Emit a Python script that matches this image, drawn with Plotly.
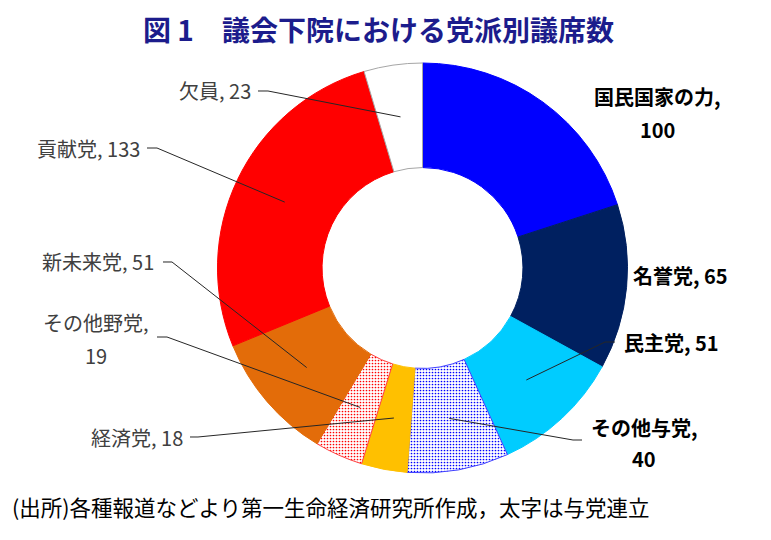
import math
import plotly.graph_objects as go

# 議会下院の党派別議席数（時計回り、12時の位置から）
parties = ["国民国家の力", "名誉党", "民主党", "その他与党", "経済党",
           "その他野党", "新未来党", "貢献党", "欠員"]
seats = [100, 65, 51, 40, 18, 19, 51, 133, 23]
ruling = [True, True, True, True, False, False, False, False, False]

fill_colors = ["#0000FF", "#002060", "#00CCFF", "#FFFFFF", "#FFC000",
               "#FFFFFF", "#E36C09", "#FF0000", "#FFFFFF"]
edge_colors = ["#0000FF", "#002060", "#00CCFF", "#4040FF", "#FFC000",
               "#FF4040", "#E36C09", "#FF0000", "#A6A6A6"]
pattern_shape = ["", "", "", ".", "", ".", "", "", ""]
pattern_fg = ["#0000FF", "#0000FF", "#0000FF", "#0000FF", "#0000FF",
              "#FF0000", "#FF0000", "#FF0000", "#FF0000"]

W, H = 771, 540
OFF = 8                        # ページ余白のずれ(px)
CX, CY, R = 422.5, 268, 205    # 円の中心と半径(px, 画面座標)
HOLE = 0.49
FONT = "Noto Sans CJK JP"

# ラベル配置 (px): 各行の文字列, x, y, xanchor
label_pos = {
    "国民国家の力": [("{n},", 657, 97, "center"), ("{v}", 657, 130, "center")],
    "名誉党": [("{n}, {v}", 631, 275, "left")],
    "民主党": [("{n}, {v}", 622, 342, "left")],
    "その他与党": [("{n},", 644, 427, "center"), ("{v}", 644, 458, "center")],
    "経済党": [("{n}, {v}", 185, 437, "right")],
    "その他野党": [("{n},", 96, 322, "center"), ("{v}", 96, 355, "center")],
    "新未来党": [("{n}, {v}", 156, 262, "right")],
    "貢献党": [("{n}, {v}", 142, 148, "right")],
    "欠員": [("{n}, {v}", 253, 91, "right")],
}
# 引き出し線の始点 (px)
leader_start = {
    "民主党": [(615, 342), (605, 342)],
    "その他与党": [(582, 440), (573, 440)],
    "経済党": [(190, 437), (198, 437)],
    "その他野党": [(157, 337), (167, 337)],
    "新未来党": [(163, 262), (172, 262)],
    "貢献党": [(147, 148), (157, 148)],
    "欠員": [(258, 91), (268, 91)],
}


def px(x):
    return (x - OFF) / W


def py(y):
    return 1 - (y - OFF) / H


fig = go.Figure(go.Pie(
    labels=parties,
    values=seats,
    sort=False,
    direction="clockwise",
    rotation=0,
    hole=HOLE,
    textinfo="none",
    hoverinfo="label+value",
    marker=dict(
        colors=fill_colors,
        line=dict(color=edge_colors, width=1),
        pattern=dict(shape=pattern_shape, fgcolor=pattern_fg,
                     bgcolor="#FFFFFF", size=3, solidity=0.25),
    ),
    domain=dict(x=[px(CX - R), px(CX + R)], y=[py(CY + R), py(CY - R)]),
    showlegend=False,
))

# スライス中央の位置（データから算出）
total = sum(seats)
cum = 0
annotations = []
shapes = []
for name, v, bold in zip(parties, seats, ruling):
    mid = (cum + v / 2) / total * 2 * math.pi
    cum += v
    r = R * (1 + HOLE) / 2
    hx, hy = CX + r * math.sin(mid), CY - r * math.cos(mid)

    for txt, x, y, anchor in label_pos[name]:
        t = txt.format(n=name, v=v)
        annotations.append(dict(
            text=f"<b>{t}</b>" if bold else t,
            x=px(x), y=py(y), xref="paper", yref="paper",
            xanchor=anchor, yanchor="middle", showarrow=False,
            font=dict(family=FONT, size=20,
                      color="#000000" if bold else "#404040"),
        ))
    if name in leader_start:
        pts = leader_start[name] + [(hx, hy)]
        path = "M " + " L ".join(f"{px(a):.5f},{py(b):.5f}" for a, b in pts)
        shapes.append(dict(type="path", path=path, xref="paper", yref="paper",
                           line=dict(color="#262626", width=1)))

annotations.append(dict(
    text="<b>図 1　議会下院における党派別議席数</b>",
    x=px(378), y=py(29), xref="paper", yref="paper",
    xanchor="center", yanchor="middle", showarrow=False,
    font=dict(family=FONT, size=28, color="#1C1C8C"),
))
annotations.append(dict(
    text="(出所)各種報道などより第一生命経済研究所作成，太字は与党連立",
    x=px(10), y=py(506), xref="paper", yref="paper",
    xanchor="left", yanchor="middle", showarrow=False,
    font=dict(family=FONT, size=21.5, color="#000000"),
))

fig.update_layout(
    width=W, height=H,
    margin=dict(l=0, r=0, t=0, b=0),
    paper_bgcolor="#FFFFFF",
    plot_bgcolor="#FFFFFF",
    annotations=annotations,
    shapes=shapes,
)

fig.write_html("out.html")
